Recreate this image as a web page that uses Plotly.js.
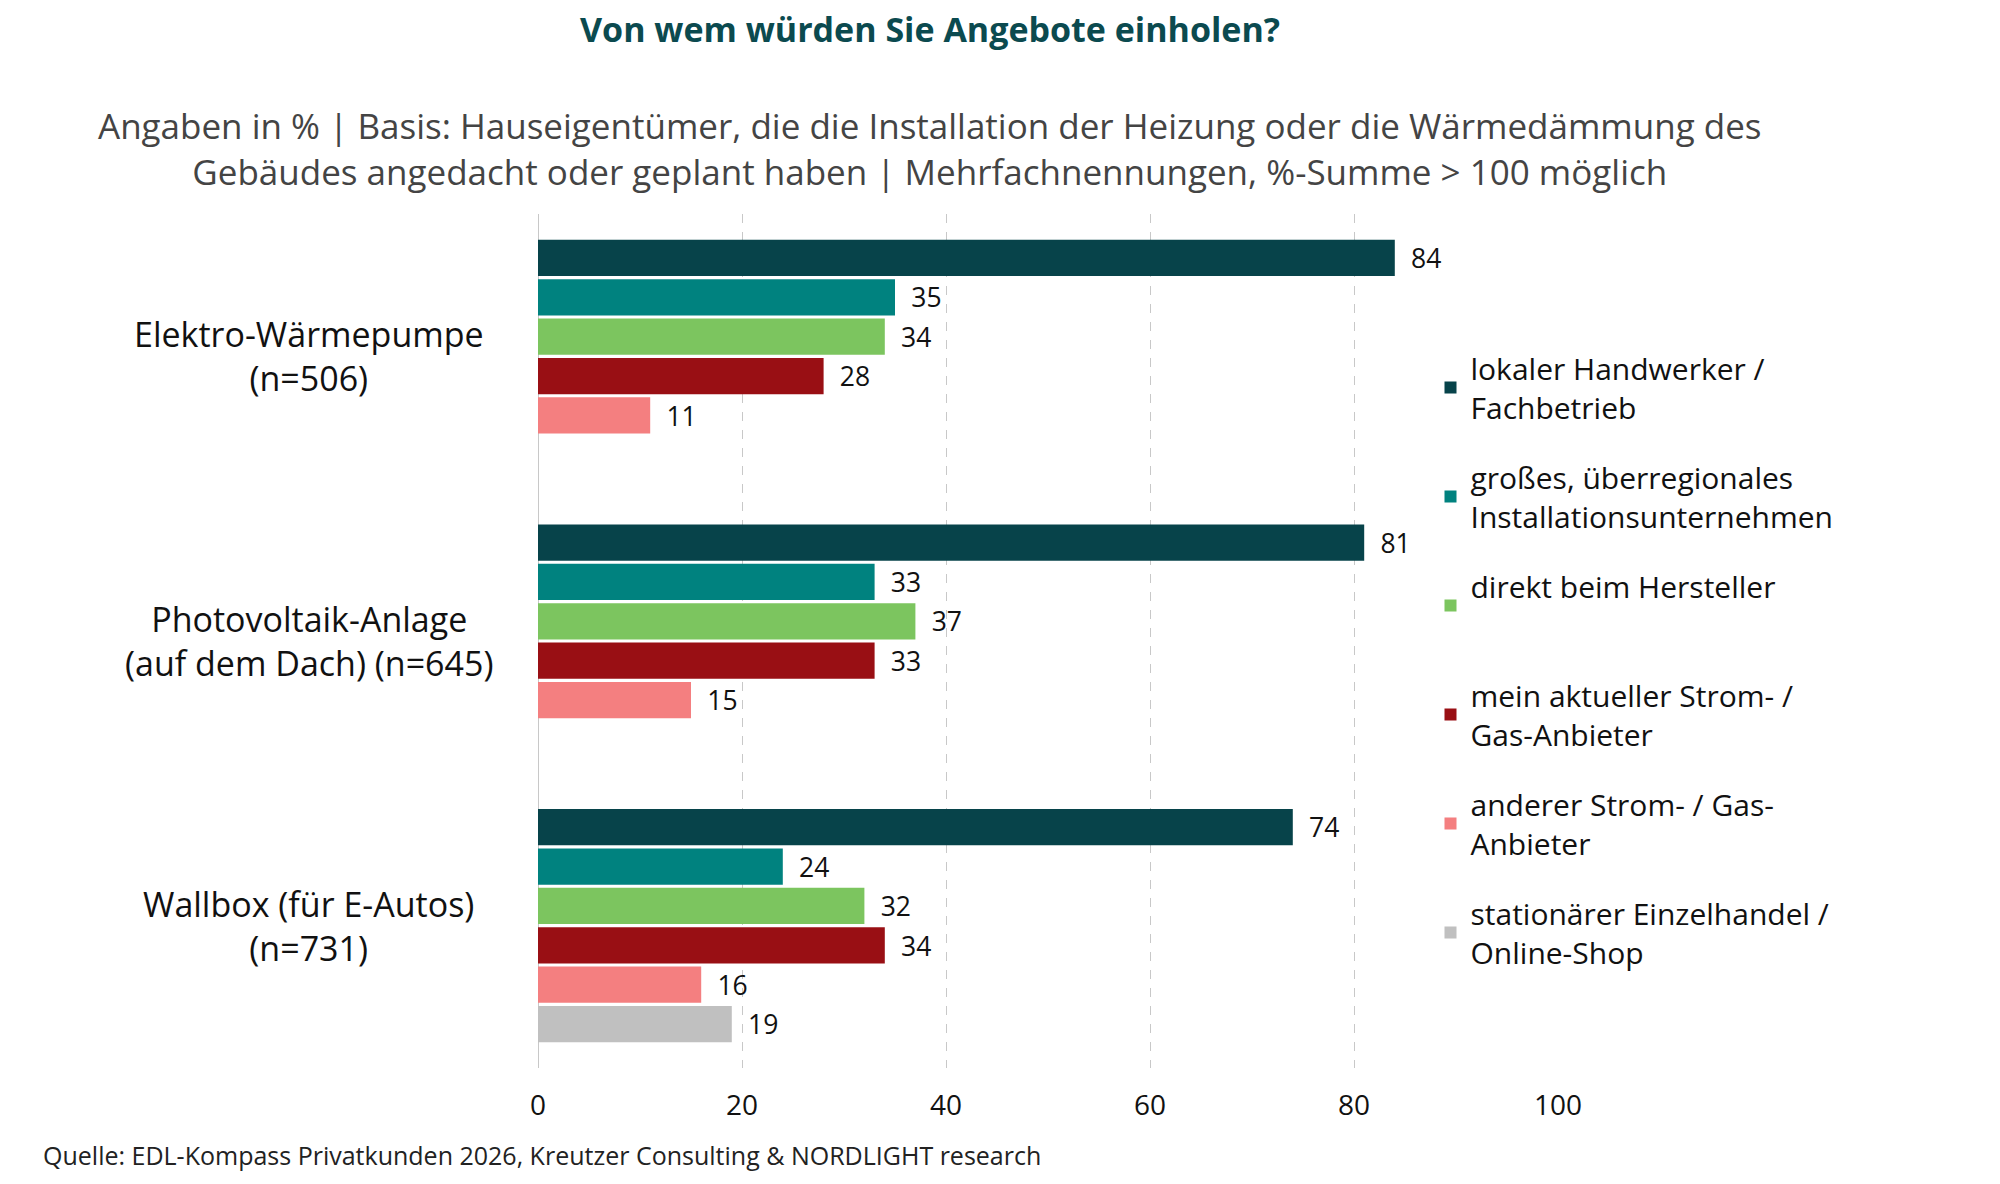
<!DOCTYPE html>
<html>
<head>
<meta charset="utf-8">
<script src="https://cdn.plot.ly/plotly-3.0.1.min.js"></script>
<style>body{margin:0;background:#fff}#chart{width:2000px;height:1184px}</style>
</head>
<body>
<div id="chart"></div>
<script>
// categories (top to bottom)
const categories = ['Elektro-Wärmepumpe<br>(n=506)', 'Photovoltaik-Anlage<br>(auf dem Dach) (n=645)', 'Wallbox (für E-Autos)<br>(n=731)'];
const seriesNames = ['lokaler Handwerker /<br>Fachbetrieb', 'großes, überregionales<br>Installationsunternehmen', 'direkt beim Hersteller<br> ', 'mein aktueller Strom- /<br>Gas-Anbieter', 'anderer Strom- / Gas-<br>Anbieter', 'stationärer Einzelhandel /<br>Online-Shop'];
const seriesColors = ['#07434a', '#00827f', '#7cc55f', '#990f14', '#f47f80', '#c0c0c0'];
const lokal = [84, 81, 74];
const gross = [35, 33, 24];
const hersteller = [34, 37, 32];
const aktuell = [28, 33, 34];
const anderer = [11, 15, 16];
const handel = [null, null, 19];
const seriesValues = [lokal, gross, hersteller, aktuell, anderer, handel];

const font = 'Open Sans, Noto Sans, sans-serif';

const traces = seriesValues.map((vals, i) => ({
    type: 'bar',
    orientation: 'h',
    name: seriesNames[i],
    legendgroup: 'g' + i,
    x: vals,
    y: categories,
    marker: {color: seriesColors[i]},
    text: vals.map(v => v === null ? '' : '\u2002' + v),
    textposition: 'outside',
    textfont: {size: 30, color: '#111'},
    cliponaxis: false,
    hoverinfo: 'x'
}));

const annotations = categories.map(c => ({
    xref: 'paper', yref: 'y', x: -0.225, y: c,
    text: c, showarrow: false, align: 'center', xanchor: 'center',
    font: {size: 34, color: '#111'}
}));
annotations.push({
    xref: 'paper', yref: 'paper', x: -0.487, y: -0.08, xanchor: 'left', yanchor: 'top',
    text: 'Quelle: EDL-Kompass Privatkunden 2026, Kreutzer Consulting & NORDLIGHT research',
    showarrow: false, font: {size: 25, color: '#222'}
});
annotations.push({
    xref: 'paper', yref: 'paper', x: 0.384, y: 1.133, xanchor: 'center', yanchor: 'top',
    text: 'Angaben in % | Basis: Hauseigentümer, die die Installation der Heizung oder die Wärmedämmung des<br>Gebäudes angedacht oder geplant haben | Mehrfachnennungen, %-Summe > 100 möglich',
    showarrow: false, align: 'center', font: {size: 35, color: '#444'}
});

const layout = {
    width: 2000, height: 1184,
    font: {family: font, color: '#111'},
    title: {text: '<b>Von wem würden Sie Angebote einholen?</b>', x: 0.465, xanchor: 'center', y: 0.985, yanchor: 'top',
        font: {size: 34, color: '#0b4a4f'}},
    margin: {l: 538, r: 442, t: 214, b: 116},
    barmode: 'group',
    bargap: 0.17,
    bargroupgap: 0.08,
    xaxis: {range: [0, 100], dtick: 20, showgrid: true, gridcolor: '#c8c8c8', griddash: 'dash',
        zeroline: true, zerolinecolor: '#c8c8c8', showline: false, tickfont: {size: 28}, ticklen: 0,
        ticklabelstandoff: 18},
    yaxis: {autorange: 'reversed', showticklabels: false, showgrid: false},
    legend: {x: 0.875, xanchor: 'left', y: 0.85, yanchor: 'top', font: {size: 30, color: '#111'},
        tracegroupgap: 28, itemwidth: 30, bgcolor: 'rgba(0,0,0,0)', traceorder: 'grouped'},
    annotations: annotations,
    plot_bgcolor: '#fff', paper_bgcolor: '#fff'
};

Plotly.newPlot('chart', traces, layout, {displayModeBar: false});
</script>
</body>
</html>
